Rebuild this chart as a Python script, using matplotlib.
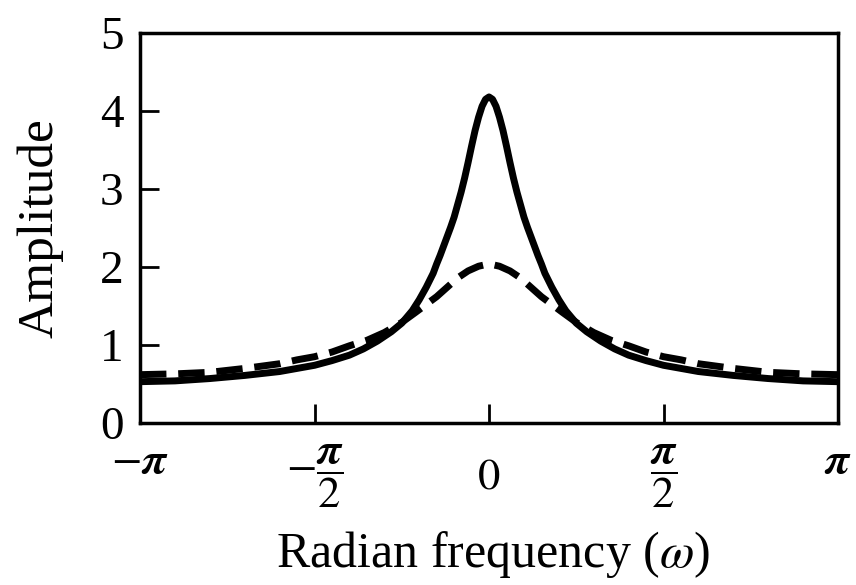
import numpy as np
import matplotlib
matplotlib.use("Agg")
import matplotlib.pyplot as plt
import matplotlib.transforms as mtransforms

# frequency positions in units of pi (one half, mirrored below)
w_solid = [0.0, 0.01, 0.02, 0.03, 0.04, 0.05, 0.06, 0.07, 0.08, 0.09, 0.10,
           0.11, 0.12, 0.13, 0.14, 0.15, 0.16, 0.18, 0.20, 0.22, 0.25, 0.28,
           0.32, 0.36, 0.40, 0.45, 0.50, 0.55, 0.60, 0.70, 0.80, 0.90, 1.00]
amp_solid = [4.18, 4.15, 4.06, 3.92, 3.75, 3.55, 3.34, 3.14, 2.96, 2.80, 2.64,
             2.51, 2.39, 2.27, 2.15, 2.04, 1.92, 1.74, 1.58, 1.44, 1.28, 1.17,
             1.05, 0.95, 0.87, 0.80, 0.74, 0.70, 0.66, 0.61, 0.57, 0.54, 0.53]

w_dash = [0.0, 0.03, 0.06, 0.09, 0.12, 0.15, 0.18, 0.21, 0.25, 0.30, 0.35,
          0.40, 0.45, 0.50, 0.55, 0.60, 0.70, 0.80, 0.90, 1.00]
amp_dash = [2.04, 2.01, 1.95, 1.86, 1.74, 1.62, 1.52, 1.42, 1.29, 1.16, 1.06,
            0.99, 0.91, 0.85, 0.81, 0.76, 0.70, 0.65, 0.63, 0.62]

xtick_pos = [-1, -0.5, 0, 0.5, 1]
xtick_labels = [r"$-\boldsymbol{\pi}$", r"$-\dfrac{\boldsymbol{\pi}}{2}$", r"$0$",
                r"$\dfrac{\boldsymbol{\pi}}{2}$", r"$\boldsymbol{\pi}$"]
ytick_pos = [0, 1, 2, 3, 4, 5]


def mirror(w, a):
    w = np.array(w) * np.pi
    a = np.array(a)
    return np.concatenate([-w[::-1], w[1:]]), np.concatenate([a[::-1], a[1:]])


plt.rcParams["font.family"] = "Liberation Serif"
plt.rcParams["mathtext.fontset"] = "stix"

fig = plt.figure(figsize=(8.56, 5.85), dpi=100)
ax = fig.add_axes([0.1636, 0.2769, 0.979 - 0.1636, 0.9436 - 0.2769])

xs, ys = mirror(w_solid, amp_solid)
ax.plot(xs, ys, color="black", lw=5, solid_capstyle="butt")
xd, yd = mirror(w_dash, amp_dash)
ax.plot(xd, yd, color="black", lw=5, dashes=(3.8, 1.7))

ax.set_xlim(-np.pi, np.pi)
ax.set_ylim(0, 5)
ax.set_xticks([p * np.pi for p in xtick_pos])
ax.set_xticklabels(xtick_labels)
ax.set_yticks(ytick_pos)
ax.tick_params(axis="both", direction="in", width=2, length=14)
ax.tick_params(axis="x", pad=14, labelsize=32)
ax.tick_params(axis="y", pad=12, labelsize=34)
for s in ax.spines.values():
    s.set_linewidth(2.5)

# the plain "0" sits lower, centred on the fractions
zero_lbl = ax.xaxis.get_major_ticks()[2].label1
zero_lbl.set_transform(zero_lbl.get_transform() +
                       mtransforms.ScaledTranslation(0, -11 / 72, fig.dpi_scale_trans))

ax.set_xlabel(r"Radian frequency ($\omega$)", fontsize=36)
ax.set_ylabel("Amplitude", fontsize=37)
ax.xaxis.set_label_coords(0.506, -0.338)
ax.xaxis.label.set_va("center")
ax.yaxis.set_label_coords(-0.143, 0.5)
ax.yaxis.label.set_va("center")

fig.savefig("out.png", dpi=100)
